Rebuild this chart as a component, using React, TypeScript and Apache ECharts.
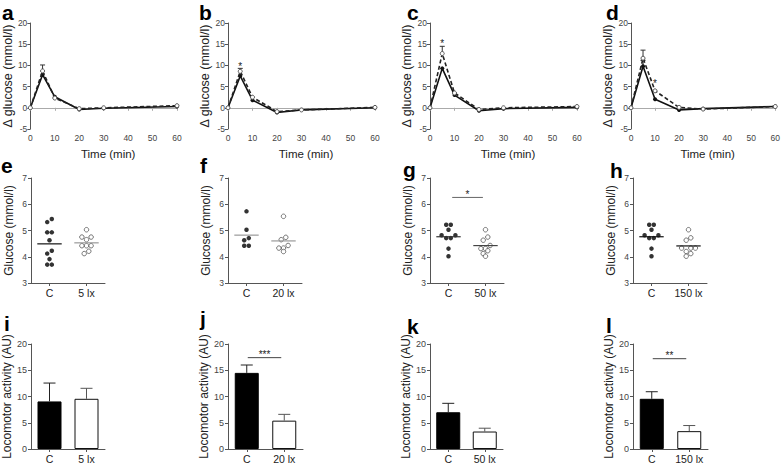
import React, { useEffect, useRef } from "react";
import * as echarts from "echarts";

const FONT = "'Liberation Sans', Arial, Helvetica, sans-serif";

// ---------------- Row 1: Δ glucose time courses (a–d) ----------------
const timePoints = [0, 5, 10, 20, 30, 60];
const deltaCtrlA = [0, 7.8, 2.6, -0.4, -0.1, 0.3];
const deltaLightA = [0, 8.7, 2.3, -0.2, 0.0, 0.5];
const deltaCtrlB = [0, 7.5, 1.8, -1.1, -0.5, 0.0];
const deltaLightB = [0, 8.6, 2.5, -0.9, -0.5, 0.1];
const deltaCtrlC = [0, 9.3, 3.0, -0.7, -0.2, 0.1];
const deltaLightC = [0, 12.8, 3.5, -0.4, 0.0, 0.3];
const deltaCtrlD = [0, 9.8, 2.0, -0.5, -0.2, 0.3];
const deltaLightD = [0, 11.7, 4.0, 0.1, -0.3, 0.3];
// error bars: time, from, to
const errTimeA = [5]; const errLoA = [8.7]; const errHiA = [10.1];
const errTimeB = [5]; const errLoB = [8.6]; const errHiB = [9.3];
const errTimeC = [5]; const errLoC = [12.8]; const errHiC = [14.5];
const errTimeD = [5, 5]; const errLoD = [11.7, 9.8]; const errHiD = [13.6, 11.2];
// significance stars: time, value
const starTimeA: number[] = []; const starValA: number[] = [];
const starTimeB = [5]; const starValB = [10.2];
const starTimeC = [5]; const starValC = [15.6];
const starTimeD = [10]; const starValD = [6.1];

// ---------------- Row 2: fasting glucose scatter (e–h) ----------------
const catsE = ["C", "5 lx"];
const catsF = ["C", "20 lx"];
const catsG = ["C", "50 lx"];
const catsH = ["C", "150 lx"];
const glucCtrlE = [5.44, 5.32, 4.93, 4.93, 4.63, 4.23, 4.12, 3.91, 3.7, 3.7];
const glucLightE = [5.03, 4.75, 4.75, 4.65, 4.42, 4.42, 4.42, 4.21, 4.12];
const glucCtrlF = [5.73, 5.03, 4.71, 4.63, 4.42, 4.42];
const glucLightF = [5.54, 4.74, 4.65, 4.43, 4.33, 4.33, 4.2];
const glucCtrlG = [5.22, 5.22, 5.03, 4.82, 4.82, 4.71, 4.71, 4.31, 4.02];
const glucLightG = [5.03, 4.75, 4.63, 4.43, 4.31, 4.31, 4.23, 4.12, 4.02];
const glucCtrlH = [5.22, 5.22, 5.03, 4.82, 4.82, 4.71, 4.71, 4.31, 4.02];
const glucLightH = [5.03, 4.72, 4.63, 4.33, 4.33, 4.33, 4.2, 4.12, 4.02];
const sigG = { from: 1.1, to: 1.93, y: 6.26, text: "*" };

// ---------------- Row 3: locomotor activity bars (i–l) ----------------
const locoMeanI = [9.06, 9.56]; const locoSemI = [3.5, 2.0];
const locoMeanJ = [14.5, 5.4]; const locoSemJ = [1.5, 1.2];
const locoMeanK = [7.0, 3.33]; const locoSemK = [1.7, 0.63];
const locoMeanL = [9.56, 3.4]; const locoSemL = [1.35, 1.07];
const sigJ = { y: 17.4, text: "***" };
const sigL = { y: 17.2, text: "**" };

// ---------------- helpers ----------------
const mean = (a: number[]) => a.reduce((s, v) => s + v, 0) / a.length;

// simple beeswarm: cluster near-equal values and spread them symmetrically
function swarm(values: number[], xc: number, xPx: number, yPx: number, d: number) {
  const idx = values.map((_, i) => i).sort((a, b) => values[b] - values[a]);
  const out: number[][] = [];
  let i = 0;
  while (i < idx.length) {
    const start = values[idx[i]];
    const cl = [idx[i]];
    i++;
    while (i < idx.length && (start - values[idx[i]]) * yPx < 3.5) { cl.push(idx[i]); i++; }
    const n = cl.length;
    const offs = Array.from({ length: n }, (_, k) => k - (n - 1) / 2).sort((a, b) => Math.abs(a) - Math.abs(b) || a - b);
    const asc = cl.slice().sort((a, b) => values[a] - values[b]);
    asc.forEach((id, k) => out.push([xc + (offs[k] * d) / xPx, values[id]]));
  }
  return out;
}

const tickLabel = { color: "#444", fontSize: 8.5, fontFamily: FONT };
const axisLn = { show: true, lineStyle: { color: "#555", width: 1 } };
const axisTk = { show: true, length: 3, lineStyle: { color: "#555", width: 1 } };

function errRender(colors: string[], cap: number) {
  return (params: any, api: any) => {
    const p0 = api.coord([api.value(0), api.value(1)]);
    const p1 = api.coord([api.value(0), api.value(2)]);
    const c = colors[params.dataIndex] || colors[0];
    return {
      type: "group",
      children: [
        { type: "line", shape: { x1: p0[0], y1: p0[1], x2: p1[0], y2: p1[1] }, style: { stroke: c, lineWidth: 1 } },
        { type: "line", shape: { x1: p1[0] - cap, y1: p1[1], x2: p1[0] + cap, y2: p1[1] }, style: { stroke: c, lineWidth: 1 } },
      ],
    };
  };
}

function starRender(text: string) {
  return (params: any, api: any) => {
    const p = api.coord([api.value(0), api.value(1)]);
    return {
      type: "text",
      x: p[0],
      y: p[1] + 2,
      style: { text, fontSize: 10, fontFamily: FONT, fill: "#222", align: "center", verticalAlign: "middle" },
    };
  };
}

function buildOption() {
  const grid: any[] = [];
  const xAxis: any[] = [];
  const yAxis: any[] = [];
  const series: any[] = [];
  const graphic: any[] = [];

  // ---- Row 1 ----
  const top = [
    { ctrl: deltaCtrlA, light: deltaLightA, et: errTimeA, el: errLoA, eh: errHiA, st: starTimeA, sv: starValA },
    { ctrl: deltaCtrlB, light: deltaLightB, et: errTimeB, el: errLoB, eh: errHiB, st: starTimeB, sv: starValB },
    { ctrl: deltaCtrlC, light: deltaLightC, et: errTimeC, el: errLoC, eh: errHiC, st: starTimeC, sv: starValC },
    { ctrl: deltaCtrlD, light: deltaLightD, et: errTimeD, el: errLoD, eh: errHiD, st: starTimeD, sv: starValD },
  ];
  const topLeft = [30, 228, 430, 631];
  const topWidth = [147, 147, 147, 148];
  top.forEach((p, i) => {
    const gi = grid.length;
    grid.push({ left: topLeft[i], top: 23, width: topWidth[i], height: 106 });
    xAxis.push({
      type: "value", gridIndex: gi, min: 0, max: 60, interval: 10,
      axisLine: { show: true, onZero: true, lineStyle: { color: "#aaa", width: 1 } },
      axisTick: { show: true, length: 3, lineStyle: { color: "#aaa" } },
      axisLabel: { ...tickLabel, margin: 4, showMinLabel: true, showMaxLabel: true },
      splitLine: { show: false },
      name: "Time (min)", nameLocation: "middle", nameGap: 19,
      nameTextStyle: { fontSize: 11.5, color: "#222", fontFamily: FONT, padding: [0, 0, 0, 9] },
    });
    yAxis.push({
      type: "value", gridIndex: gi, min: -5, max: 20, interval: 5,
      axisLine: axisLn, axisTick: axisTk,
      axisLabel: { ...tickLabel, margin: 3, showMinLabel: true, showMaxLabel: true },
      splitLine: { show: false },
      name: "Δ glucose (mmol/l)", nameLocation: "middle", nameGap: 5,
      nameTextStyle: { fontSize: 12.5, color: "#222", fontFamily: FONT },
    });
    series.push({
      type: "custom", xAxisIndex: gi, yAxisIndex: gi, z: 1,
      data: p.et.map((t, k) => [t, p.el[k], p.eh[k]]),
      renderItem: errRender(["#333", "#111"], 2.5),
    });
    series.push({
      type: "line", xAxisIndex: gi, yAxisIndex: gi, z: 3,
      data: timePoints.map((t, k) => [t, p.ctrl[k]]),
      symbol: "circle", symbolSize: 4, showSymbol: true,
      lineStyle: { color: "#111", width: 1.6 }, itemStyle: { color: "#111" },
    });
    series.push({
      type: "line", xAxisIndex: gi, yAxisIndex: gi, z: 4,
      data: timePoints.map((t, k) => [t, p.light[k]]),
      symbol: "circle", symbolSize: 4, showSymbol: true,
      lineStyle: { color: "#222", width: 1.6, type: [4, 2.5] },
      itemStyle: { color: "#fff", borderColor: "#555", borderWidth: 1 },
    });
    if (p.st.length) {
      series.push({
        type: "custom", xAxisIndex: gi, yAxisIndex: gi, z: 5,
        data: p.st.map((t, k) => [t, p.sv[k]]),
        renderItem: starRender("*"),
      });
    }
  });

  // ---- Row 2 ----
  const scat = [
    { cats: catsE, c: glucCtrlE, l: glucLightE, mc: ["#111", "#999"], sig: null as any },
    { cats: catsF, c: glucCtrlF, l: glucLightF, mc: ["#999", "#999"], sig: null as any },
    { cats: catsG, c: glucCtrlG, l: glucLightG, mc: ["#333", "#444"], sig: sigG },
    { cats: catsH, c: glucCtrlH, l: glucLightH, mc: ["#111", "#111"], sig: null as any },
  ];
  const scatLeft = [31, 228, 430, 633];
  const xPx = 37, yPx = 105 / 4;
  scat.forEach((p, i) => {
    const gi = grid.length;
    grid.push({ left: scatLeft[i], top: 178, width: 74, height: 105 });
    xAxis.push({
      type: "value", gridIndex: gi, min: 0.5, max: 2.5,
      axisLine: { ...axisLn, onZero: false },
      axisTick: { ...axisTk, customValues: [1, 2] },
      axisLabel: { customValues: [1, 2], formatter: (v: number) => p.cats[Math.round(v) - 1], color: "#222", fontSize: 10.5, fontFamily: FONT, margin: 4 },
      splitLine: { show: false },
    });
    yAxis.push({
      type: "value", gridIndex: gi, min: 3, max: 7, interval: 1,
      axisLine: axisLn, axisTick: axisTk,
      axisLabel: { ...tickLabel, margin: 4, showMinLabel: true, showMaxLabel: true },
      splitLine: { show: false },
      name: "Glucose (mmol/l)", nameLocation: "middle", nameGap: 16,
      nameTextStyle: { fontSize: 12, color: "#222", fontFamily: FONT },
    });
    series.push({
      type: "scatter", xAxisIndex: gi, yAxisIndex: gi, z: 3,
      data: swarm(p.c, 1, xPx, yPx, 4.6), symbol: "circle", symbolSize: 4.5,
      itemStyle: { color: "#000" },
    });
    series.push({
      type: "scatter", xAxisIndex: gi, yAxisIndex: gi, z: 3,
      data: swarm(p.l, 2, xPx, yPx, 4.6), symbol: "circle", symbolSize: 4.5,
      itemStyle: { color: "#fff", borderColor: "#555", borderWidth: 1 },
    });
    series.push({
      type: "custom", xAxisIndex: gi, yAxisIndex: gi, z: 4,
      data: [[1, mean(p.c)], [2, mean(p.l)]],
      renderItem: (params: any, api: any) => {
        const a = api.coord([api.value(0) - 0.33, api.value(1)]);
        const b = api.coord([api.value(0) + 0.33, api.value(1)]);
        return { type: "line", shape: { x1: a[0], y1: a[1], x2: b[0], y2: b[1] }, style: { stroke: p.mc[params.dataIndex], lineWidth: 1.2 } };
      },
    });
    if (p.sig) {
      const s = p.sig;
      series.push({
        type: "custom", xAxisIndex: gi, yAxisIndex: gi, z: 4,
        data: [[s.from, s.y, s.to]],
        renderItem: (params: any, api: any) => {
          const a = api.coord([api.value(0), api.value(1)]);
          const b = api.coord([api.value(2), api.value(1)]);
          return {
            type: "group",
            children: [
              { type: "line", shape: { x1: a[0], y1: a[1], x2: b[0], y2: b[1] }, style: { stroke: "#666", lineWidth: 1 } },
              { type: "text", x: (a[0] + b[0]) / 2, y: a[1] - 3, style: { text: s.text, fontSize: 10, fontFamily: FONT, fill: "#222", align: "center", verticalAlign: "middle" } },
            ],
          };
        },
      });
    }
  });

  // ---- Row 3 ----
  const bars = [
    { cats: catsE, m: locoMeanI, s: locoSemI, sig: null as any },
    { cats: catsF, m: locoMeanJ, s: locoSemJ, sig: sigJ },
    { cats: catsG, m: locoMeanK, s: locoSemK, sig: null as any },
    { cats: catsH, m: locoMeanL, s: locoSemL, sig: sigL },
  ];
  const barLeft = [31, 228, 430, 633];
  const barWidthArr = [74, 75, 73, 75];
  bars.forEach((p, i) => {
    const gi = grid.length;
    grid.push({ left: barLeft[i], top: 344, width: barWidthArr[i], height: 106 });
    xAxis.push({
      type: "category", gridIndex: gi, data: p.cats, boundaryGap: true,
      axisLine: { ...axisLn, onZero: false },
      axisTick: { ...axisTk, alignWithLabel: true },
      axisLabel: { color: "#222", fontSize: 10.5, fontFamily: FONT, margin: 4, interval: 0 },
      splitLine: { show: false },
    });
    yAxis.push({
      type: "value", gridIndex: gi, min: 0, max: 20, interval: 5,
      axisLine: axisLn, axisTick: axisTk,
      axisLabel: { ...tickLabel, fontSize: 9, margin: 4, showMinLabel: true, showMaxLabel: true },
      splitLine: { show: false },
      name: "Locomotor activity (AU)", nameLocation: "middle", nameGap: 16,
      nameTextStyle: { fontSize: 12, color: "#222", fontFamily: FONT },
    });
    series.push({
      type: "bar", xAxisIndex: gi, yAxisIndex: gi, barWidth: 24, z: 2,
      data: p.m.map((v, k) =>
        k === 0
          ? { value: v, itemStyle: { color: "#000", borderColor: "#000", borderWidth: 1 } }
          : { value: v, itemStyle: { color: "#fff", borderColor: "#111", borderWidth: 1 } }
      ),
    });
    series.push({
      type: "custom", xAxisIndex: gi, yAxisIndex: gi, z: 3,
      data: p.m.map((v, k) => [k, v, v + p.s[k]]),
      renderItem: errRender(["#222", "#555"], 6),
    });
    if (p.sig) {
      const s = p.sig;
      series.push({
        type: "custom", xAxisIndex: gi, yAxisIndex: gi, z: 4,
        data: [[0, s.y, 1]],
        renderItem: (params: any, api: any) => {
          const a = api.coord([api.value(0), api.value(1)]);
          const b = api.coord([api.value(2), api.value(1)]);
          const x1 = a[0] + 1, x2 = b[0] - 3;
          return {
            type: "group",
            children: [
              { type: "line", shape: { x1, y1: a[1], x2, y2: a[1] }, style: { stroke: "#444", lineWidth: 1 } },
              { type: "text", x: (x1 + x2) / 2, y: a[1] - 3, style: { text: s.text, fontSize: 10, fontFamily: FONT, fill: "#222", align: "center", verticalAlign: "middle" } },
            ],
          };
        },
      });
    }
  });

  // ---- panel letters ----
  const letters = ["a", "b", "c", "d", "e", "f", "g", "h", "i", "j", "k", "l"];
  const letterX = [2, 199, 407, 606, 1, 200, 403, 610, 4, 200, 407, 606];
  const letterBase = [19.5, 19.5, 19.5, 19.5, 172, 172, 176, 177, 330, 325, 333, 332];
  letters.forEach((t, k) => {
    graphic.push({
      type: "text", x: letterX[k], y: letterBase[k] - 7, z: 10,
      style: { text: t, font: `bold 21px ${FONT}`, fill: "#000", align: "left", verticalAlign: "middle" },
    });
  });

  return {
    animation: false,
    backgroundColor: "#fff",
    textStyle: { fontFamily: FONT },
    grid, xAxis, yAxis, series, graphic,
  };
}

export default function App() {
  const ref = useRef<HTMLDivElement>(null);
  useEffect(() => {
    const chart = echarts.init(ref.current!, null, { renderer: "svg" });
    chart.setOption(buildOption() as any);
    return () => chart.dispose();
  }, []);
  return (
    <div
      ref={ref}
      style={{ position: "fixed", left: 0, top: 0, width: 783, height: 464, background: "#fff" }}
    />
  );
}
